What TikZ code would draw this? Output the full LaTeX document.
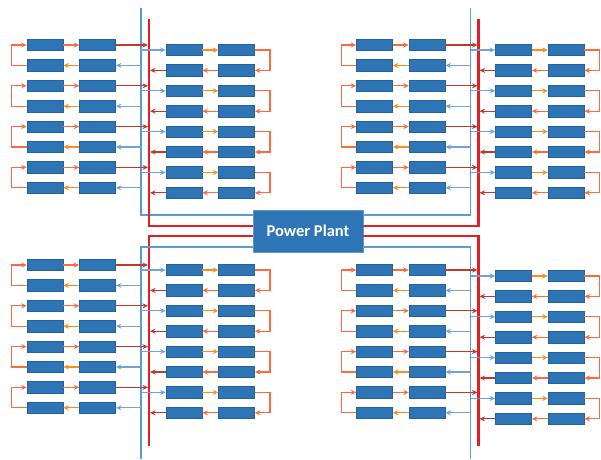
\documentclass[tikz,border=0pt]{standalone}
\usepackage{fontspec}
\newfontfamily\plantfont{Carlito}
\usetikzlibrary{arrows.meta,positioning,calc}
\definecolor{cellfill}{HTML}{2E75B6}
\definecolor{cellline}{HTML}{2262A0}
\definecolor{busblue}{HTML}{5B9BD5}
\definecolor{busred}{HTML}{E21F26}
\definecolor{outred}{HTML}{C0392B}
\definecolor{inblue}{HTML}{6FA3DA}
\definecolor{hoporange}{HTML}{FF8C1A}
\definecolor{hopcoral}{HTML}{FF6A3D}
\tikzset{
  cell/.style={draw=cellline,fill=cellfill,minimum width=36pt,minimum height=11.5pt,inner sep=0pt,line width=0.6pt},
  plant/.style={draw=cellfill!75!white,fill=cellfill,text=white,minimum width=110pt,minimum height=42pt,line width=0.8pt,font=\plantfont\bfseries\fontsize{16.5}{19}\selectfont},
  flow/.style={-{Stealth[length=5.5pt,width=5pt]},line width=1.3pt},
  inlet/.style={flow,color=inblue},
  outlet/.style={flow,color=outred,shorten >=1pt},
  hop/.style={flow,color=hoporange},
  hopback/.style={flow,color=hopcoral},
  uturn/.style={flow,color=hopcoral},
  bluebus/.style={draw=busblue,line width=1.6pt},
  redbus/.style={draw=busred,line width=2.4pt},
}
\begin{document}
\begin{tikzpicture}[x=1pt,y=-1pt]
  \useasboundingbox (0,0) rectangle (601,459);
  \node[plant] (pp) at (308,231) {Power Plant};
  % bus ends
  \coordinate (tlbtop) at (141,8);
  \coordinate (tlrtop) at (149,19);
  \coordinate (trbtop) at (470.5,8);
  \coordinate (trrtop) at (478.5,19);
  \coordinate (blbend) at (141,459);
  \coordinate (blrend) at (149,446);
  \coordinate (brbend) at (470.5,459);
  \coordinate (brrend) at (478.5,446);
  \draw[bluebus] (tlbtop) |- ($(pp.west)+(0,-16)$);
  \draw[redbus] (tlrtop) |- ($(pp.west)+(0,-5)$);
  \draw[redbus] (blrend) |- ($(pp.west)+(0,5)$);
  \draw[bluebus] (blbend) |- ($(pp.west)+(0,16)$);
  \draw[bluebus] (trbtop) |- ($(pp.east)+(0,-16)$);
  \draw[redbus] (trrtop) |- ($(pp.east)+(0,-5)$);
  \draw[redbus] (brrend) |- ($(pp.east)+(0,5)$);
  \draw[bluebus] (brbend) |- ($(pp.east)+(0,16)$);
  % four fields of strings
  \foreach \q/\dx/\ly/\ry in {tl/0/45/50,tr/329.5/45/50,bl/0/265/270,br/329.5/270/276}{
    \coordinate (\q blue) at (141+\dx,0);
    \coordinate (\q red) at (149+\dx,0);
    \foreach \i in {1,...,8}{
      \node[cell] (\q A\i) at (45+\dx,\ly+20.4*\i-20.4) {};
      \node[cell,right=16pt of \q A\i] (\q B\i) {};
      \node[cell] (\q C\i) at (184+\dx,\ry+20.4*\i-20.4) {};
      \node[cell,right=16pt of \q C\i] (\q D\i) {};
    }
    \foreach \o/\e in {1/2,3/4,5/6,7/8}{
      \draw[inlet] (\q B\e.east -| \q blue) -- (\q B\e.east);
      \draw[hop] (\q B\e) -- (\q A\e);
      \draw[uturn] (\q A\e.west) -- ++(-15,0) |- (\q A\o.west);
      \draw[hopback] (\q A\o) -- (\q B\o);
      \draw[outlet] (\q B\o.east) -- (\q B\o.east -| \q red);
      \draw[inlet] (\q C\o.west -| \q blue) -- (\q C\o.west);
      \draw[hop] (\q C\o) -- (\q D\o);
      \draw[uturn] (\q D\o.east) -- ++(15,0) |- (\q D\e.east);
      \draw[hopback] (\q D\e) -- (\q C\e);
      \draw[outlet] (\q C\e.west) -- (\q C\e.west -| \q red);
    }
  }
\end{tikzpicture}
\end{document}
